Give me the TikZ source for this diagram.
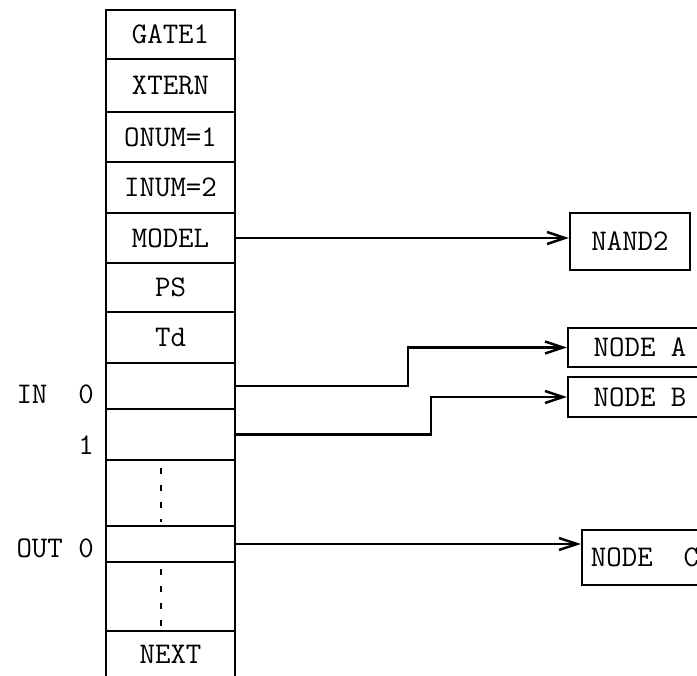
\documentclass[tikz,border=0pt]{standalone}
\usepackage{fontspec}
\usetikzlibrary{arrows.meta,positioning}

\newcommand{\recfont}{\fontsize{30}{36}\selectfont\ttfamily}

\begin{document}
\begin{tikzpicture}[x=1pt, y=-1pt, >={Straight Barb[length=18pt,width=12pt]}, line width=2.4pt]
    % Styles
    \tikzset{
        field/.style={draw, minimum width=129pt, inner sep=0pt, font=\recfont},
        target/.style={draw, inner sep=0pt, font=\recfont},
        side/.style={anchor=east, inner sep=0pt, font=\recfont},
        link/.style={->, line width=2.4pt},
        gap/.style={line width=2pt, dash pattern=on 6pt off 11pt}
    }
    \useasboundingbox (0,0) rectangle (697,676);
    \clip (0,0) rectangle (697,676);

    % 1. Record fields (top to bottom)
    \foreach \name/\top/\bot/\txt in {gate/10/59/GATE1, xtern/59/112/XTERN, onum/112/162/ONUM=1,
        inum/162/213/INUM=2, model/213/263/MODEL, ps/263/312/PS, td/312/363/Td,
        inA/363/409/{}, inB/409/460/{}, skipA/460/526/{}, outC/526/562/{},
        skipB/562/631/{}, next/631/678/NEXT} {
        \node[field, minimum height={(\bot-\top)*1pt}] (\name) at (170.5, {(\top+\bot)/2}) {\txt};
    }

    % 2. Index labels
    \node[side] (inlab) at (95, 394) {IN\ \ 0};
    \node[side] (inone) at (95, 445) {1};
    \node[side] (outlab) at (95, 548) {OUT 0};

    % 3. Target nodes
    \node[target, minimum width=120pt, minimum height=57pt] (nand) at (630, 241.5) {NAND2};
    \node[target, minimum width=144pt, minimum height=39pt] (nodeA) at (640, 347.5) {NODE A};
    \node[target, minimum width=144pt, minimum height=40pt] (nodeB) at (640, 397) {NODE B};
    \node[target, minimum width=126pt, minimum height=55pt] (nodeC) at (645, 557.5) {NODE\ \ C};

    % 4. Pointers
    \draw[link] (model.east) -- (model.east -| nand.west);
    \draw[link] (inA.east) -- ++(172,0) |- (nodeA.west);
    \draw[link] (inB.east) -- ++(195,0) |- (nodeB.west);
    \draw[link] (outC.east) -- (outC.east -| nodeC.west);

    % 5. Elided fields
    \draw[gap] ([xshift=-9.5pt, yshift=-9pt]skipA.north) -- ([xshift=-9.5pt, yshift=5pt]skipA.south);
    \draw[gap] ([xshift=-9.5pt, yshift=-8pt]skipB.north) -- ([xshift=-9.5pt, yshift=4pt]skipB.south);
\end{tikzpicture}
\end{document}
